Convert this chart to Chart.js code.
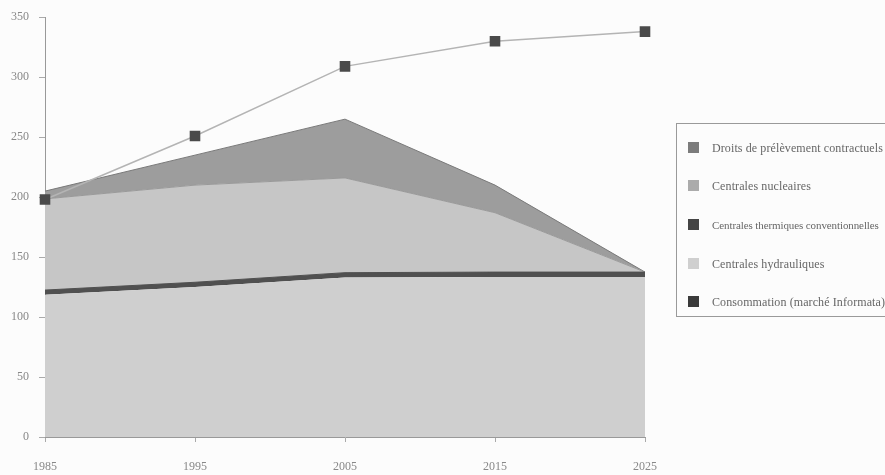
<!DOCTYPE html>
<html lang="fr">
<head>
<meta charset="utf-8">
<title>Production et consommation</title>
<script src="https://cdn.jsdelivr.net/npm/chart.js@4/dist/chart.umd.min.js"></script>
<style>
  body { margin: 0; background: #fcfcfc; overflow: hidden; }
  #wrap { position: relative; width: 885px; height: 475px; }
  #legend {
    position: absolute; left: 676px; top: 123px; width: 230px; height: 194px;
    border: 1px solid #9a9a9a; border-right: none; box-sizing: border-box;
    font-family: "Liberation Serif", serif; font-size: 12px; letter-spacing: 0.1px; color: #666;
  }
  #legend div { position: absolute; left: 11px; height: 14px; line-height: 14px; white-space: nowrap; }
  #legend div.narrow { font-size: 11px; letter-spacing: -0.1px; }
  #legend span { display: inline-block; width: 11px; height: 11px; margin-right: 13px; vertical-align: -1px; }
</style>
</head>
<body>
<div id="wrap">
  <canvas id="chart" width="885" height="475"></canvas>
  <div id="legend"></div>
</div>
<script>
const years = ["1985", "1995", "2005", "2015", "2025"];
const hydrauliques = [118.5, 125, 133, 133.5, 133.5];
const thermiques = [4, 4, 4, 4, 4];
const nucleaires = [76, 81, 79, 49.5, 0];
const droits = [6.5, 25, 49, 23, 0];
const consommation = [198, 251, 309, 330, 338];
const yTicks = [0, 50, 100, 150, 200, 250, 300, 350];

const legendItems = [
  { label: "Droits de prélèvement contractuels", color: "#7c7c7c" },
  { label: "Centrales nucleaires", color: "#ababab" },
  { label: "Centrales thermiques conventionnelles", color: "#444", narrow: true },
  { label: "Centrales hydrauliques", color: "#cfcfcf" },
  { label: "Consommation (marché Informata)", color: "#3a3a3a" }
];

// legend rows, centre of each line in page pixels
const legendRows = [148, 186, 225, 264, 302];
const legendBox = document.getElementById("legend");
legendItems.forEach(function (item, i) {
  const row = document.createElement("div");
  if (item.narrow) row.className = "narrow";
  row.style.top = (legendRows[i] - 123 - 8) + "px";
  row.innerHTML = `<span style="background:${item.color}"></span>${item.label}`;
  legendBox.appendChild(row);
});

function area(label, data, fill, bg, border, width) {
  return {
    label: label,
    data: data,
    fill: fill,
    stack: "prod",
    backgroundColor: bg,
    borderColor: border,
    borderWidth: width,
    pointRadius: 0,
    tension: 0
  };
}

const axisFont = { family: "Liberation Serif", size: 12 };

new Chart(document.getElementById("chart"), {
  type: "line",
  data: {
    labels: years,
    datasets: [
      area("Centrales hydrauliques", hydrauliques, "origin", "#cfcfcf", "#cfcfcf", 0),
      area("Centrales thermiques conventionnelles", thermiques, "-1", "#505050", "#505050", 1),
      area("Centrales nucleaires", nucleaires, "-1", "#c6c6c6", "#9a9a9a", 1),
      area("Droits de prélèvement contractuels", droits, "-1", "#9d9d9d", "#7a7a7a", 1),
      {
        label: "Consommation (marché Informata)",
        data: consommation,
        stack: "conso",
        order: -1,
        fill: false,
        borderColor: "#b4b4b4",
        borderWidth: 1.5,
        pointStyle: "rect",
        pointRadius: 7.5,
        pointBackgroundColor: "#4a4a4a",
        pointBorderColor: "#4a4a4a",
        pointBorderWidth: 0,
        tension: 0
      }
    ]
  },
  options: {
    responsive: false,
    animation: false,
    layout: { padding: { top: 12, right: 240, left: 0, bottom: 0 } },
    plugins: { legend: { display: false }, tooltip: { enabled: false } },
    scales: {
      x: {
        offset: false,
        grid: { drawOnChartArea: false, tickLength: 5, color: "#aaa" },
        border: { color: "#999" },
        ticks: { font: axisFont, color: "#888", padding: 18, maxRotation: 0 },
        afterFit: function (scale) { scale.height = 38; }
      },
      y: {
        stacked: true,
        min: 0,
        max: 350,
        afterBuildTicks: function (scale) {
          scale.ticks = yTicks.map(function (v) { return { value: v }; });
        },
        grid: { drawOnChartArea: false, tickLength: 6, color: "#aaa" },
        border: { color: "#999" },
        ticks: { font: axisFont, color: "#888", padding: 10 },
        afterFit: function (scale) { scale.width = 45; }
      }
    }
  }
});
</script>
</body>
</html>
